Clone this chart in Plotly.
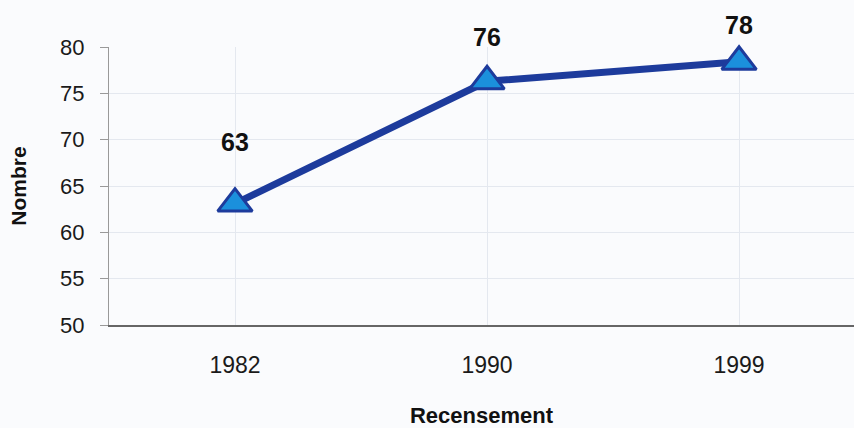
import plotly.graph_objects as go

years = ["1982", "1990", "1999"]
values = [63.1, 76.3, 78.4]
labels = ["63", "76", "78"]
label_shift = [62, 44, 37]  # pixel offsets of labels above points
y_ticks = [50, 55, 60, 65, 70, 75, 80]

FONT = "Liberation Sans, Arial, sans-serif"

fig = go.Figure()
fig.add_trace(go.Scatter(
    x=years, y=values, mode="lines+markers",
    line=dict(color="#1d3b9c", width=7),
    marker=dict(symbol="triangle-up", size=30, color="#1b90dc",
                line=dict(color="#1d3b9c", width=3)),
    showlegend=False, cliponaxis=False,
))
for i, (y, t, s) in enumerate(zip(values, labels, label_shift)):
    fig.add_annotation(x=i, y=y, xref="x", yref="y", text=f"<b>{t}</b>",
                       showarrow=False, yshift=s,
                       font=dict(size=25, color="#111111", family=FONT))

fig.update_layout(
    width=854, height=428,
    margin=dict(l=109, r=0, t=47, b=103),
    paper_bgcolor="#fafbfd", plot_bgcolor="#fafbfd",
    font=dict(family=FONT, color="#222222"),
    xaxis=dict(type="category", range=[-0.5, 2.456],
               showline=True, linecolor="#666666", linewidth=1.5,
               showgrid=True, gridcolor="#e4e8ef", gridwidth=1,
               ticks="", tickfont=dict(size=23, color="#1a1a1a"),
               ticklabelstandoff=19,
               title=dict(text="<b>Recensement</b>", font=dict(size=22, color="#111111"),
                          standoff=33),
               zeroline=False),
    yaxis=dict(range=[50, 80], tickvals=y_ticks,
               showline=True, linecolor="#999999", linewidth=1,
               ticks="outside", ticklen=8, tickcolor="#999999",
               ticklabelstandoff=11,
               showgrid=True, gridcolor="#e4e8ef", gridwidth=1,
               tickfont=dict(size=22, color="#1a1a1a"),
               title=dict(text="<b>Nombre</b>", font=dict(size=21, color="#111111"),
                          standoff=27),
               zeroline=False),
)
fig.write_html("out.html", config={"displayModeBar": False},
               post_script="document.body.style.margin='0px';")
